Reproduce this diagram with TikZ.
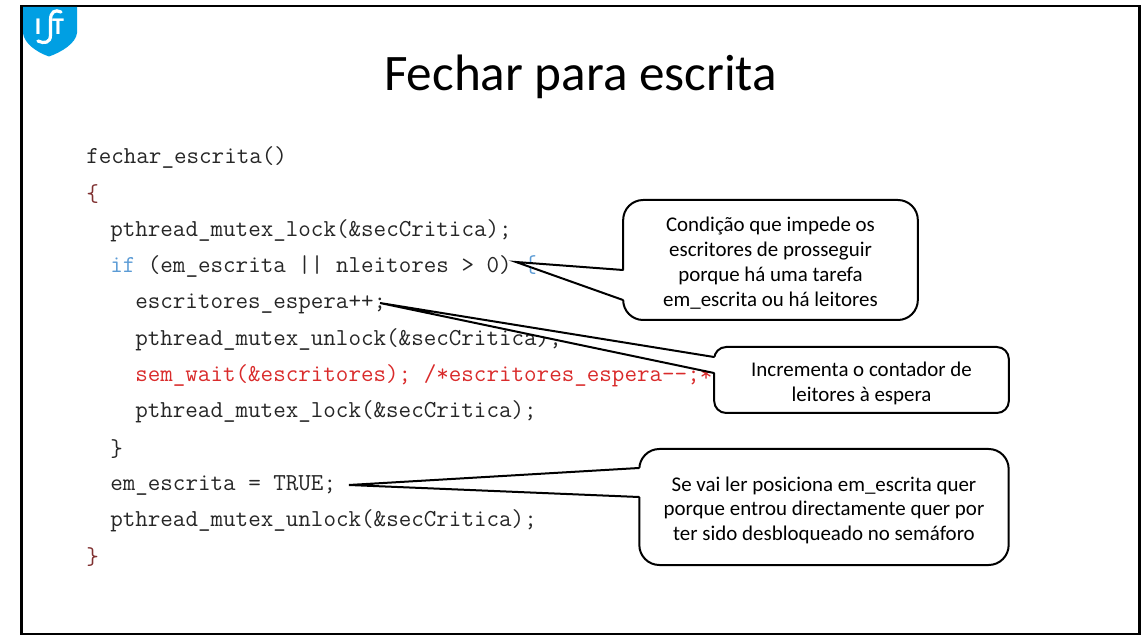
\documentclass[tikz,border=0pt]{standalone}
\usepackage{fontspec}
\setmainfont{Carlito}
\definecolor{istblue}{HTML}{009FE3}
\definecolor{codegray}{HTML}{262626}
\definecolor{codeblue}{HTML}{5B9BD5}
\definecolor{codered}{HTML}{D92B2B}
\definecolor{bracered}{HTML}{7F3030}
\newcommand{\notelift}{\rule{0pt}{16pt}}
\tikzset{
  code/.style={anchor=base west,inner sep=0pt,text=codegray,font=\ttfamily\fontsize{18.27pt}{20pt}\selectfont},
  note/.style={draw,line width=1.5pt,fill=white,align=center,inner sep=0pt,font=\fontsize{15.7pt}{18.7pt}\selectfont},
  tail/.style={line width=1.5pt,line cap=round},
  logotext/.style={text=white,inner sep=0pt,font=\bfseries\fontsize{18pt}{18pt}\selectfont}
}
\begin{document}
\begin{tikzpicture}[x=.75pt,y=-.75pt]
    \useasboundingbox (0,0) rectangle (1143,641);
    \draw[line width=1.6pt] (21.5,6) rectangle (1139.5,634);

    % logo
    \fill[istblue] (23,7) -- (77,7) -- (77,33) .. controls (76,43) and (62,52) .. (49,56.5) .. controls (36,52) and (24,43) .. (23,33) -- cycle;
    \node[logotext] (logoI) at (38,27) {I};
    \node[logotext] (logoT) at (58,27) {T};
    \draw[white,line width=2.4pt,line cap=round] (61,12) .. controls (55,9) and (50.5,12) .. (50.5,20) -- (50.5,35) .. controls (50.5,43) and (44,44) .. (38,41);

    \node (title) at (580.5,77) [inner sep=0pt,font=\fontsize{38.4pt}{42pt}\selectfont] {Fechar para escrita};

    % code
    \node[code] (l1) at (86,164) {fechar\_escrita()};
    \node[code,text=bracered] (l2) at (86,202) {\{};
    \node[code] (l3) at (110,237) {pthread\_mutex\_lock(\&secCritica);};
    \node[code] (l4) at (110,273) {\textcolor{codeblue}{if} (em\_escrita || nleitores > 0) \textcolor{codeblue}{\{}};
    \node[code] (l5) at (135,309) {escritores\_espera++;};
    \node[code] (l6) at (135,346) {pthread\_mutex\_unlock(\&secCritica);};
    \node[code,text=codered] (l7) at (135,382) {sem\_wait(\&escritores); /*escritores\_espera-{}-;*/};
    \node[code] (l8) at (135,418) {pthread\_mutex\_lock(\&secCritica);};
    \node[code] (l9) at (110,457) {\}};
    \node[code] (l10) at (110,491) {em\_escrita = TRUE;};
    \node[code] (l11) at (110,527) {pthread\_mutex\_unlock(\&secCritica);};
    \node[code,text=bracered] (l12) at (86,565) {\}};

    % notes
    \node[note,rounded corners=15pt,minimum width=221pt,minimum height=90pt] (cond) at (770.5,260) {\notelift Condição que impede os\\escritores de prosseguir\\porque há uma tarefa\\em\_escrita ou há leitores};
    \node[note,rounded corners=9pt,minimum width=221pt,minimum height=49.5pt] (incr) at (861.5,380) {\notelift Incrementa o contador de\\leitores à espera};
    \node[note,rounded corners=15pt,minimum width=277pt,minimum height=87pt] (pos) at (824,507) {\notelift Se vai ler posiciona em\_escrita quer\\porque entrou directamente quer por\\ter sido desbloqueado no semáforo};

    % tails
    \coordinate (condtip) at (516,262);
    \coordinate (conda) at (623,270);
    \coordinate (condb) at (623,300);
    \coordinate (incrtip) at (380,303);
    \coordinate (incra) at (714,357);
    \coordinate (incrb) at (714,373);
    \coordinate (postip) at (349,485);
    \coordinate (posa) at (639,468);
    \coordinate (posb) at (639,497);
    \fill[white] (condtip) -- (conda) -- ([xshift=1.5pt]conda) -- ([xshift=1.5pt]condb) -- (condb) -- cycle;
    \fill[white] (incrtip) -- (incra) -- ([xshift=1.5pt]incra) -- ([xshift=1.5pt]incrb) -- (incrb) -- cycle;
    \fill[white] (postip) -- (posa) -- ([xshift=1.5pt]posa) -- ([xshift=1.5pt]posb) -- (posb) -- cycle;
    \draw[tail] (conda) -- (condtip) -- (condb);
    \draw[tail] (incra) -- (incrtip) -- (incrb);
    \draw[tail] (posa) -- (postip) -- (posb);
\end{tikzpicture}
\end{document}
